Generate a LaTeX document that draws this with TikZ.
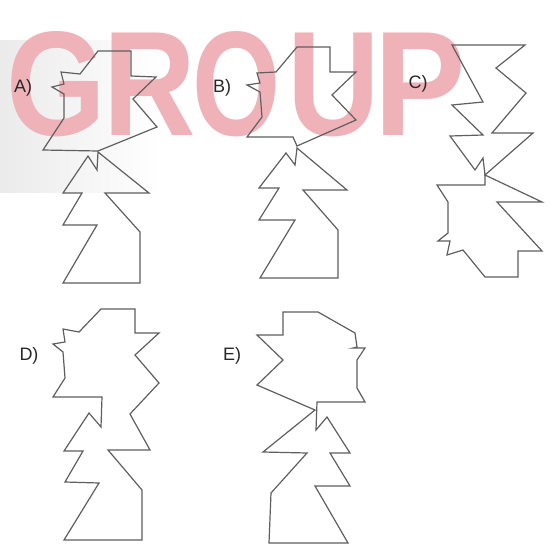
\documentclass[tikz,border=0pt]{standalone}
\usepackage{fontspec}
\setmainfont{Liberation Sans}
\usetikzlibrary{calc}
\definecolor{wmpink}{RGB}{240,178,185}
\definecolor{linegray}{RGB}{95,95,95}
\definecolor{labelgray}{RGB}{40,40,40}
\tikzset{
  piece/.style={draw=linegray, line width=1.2pt, line join=miter},
  optlabel/.style={text=labelgray, font=\fontsize{18}{18}\selectfont, inner sep=0pt},
  wmletter/.style={text=wmpink, font=\fontsize{149}{149}\selectfont\bfseries, inner sep=0pt, anchor=base}
}
\begin{document}
\begin{tikzpicture}[x=1pt,y=-1pt]
\useasboundingbox (0,0) rectangle (554,552);
\fill[white] (0,0) rectangle (554,552);
% faint grey band of the watermark
\shade[left color=black!8, right color=white] (0,40) rectangle (160,192);
% watermark letters
\node[wmletter] (wG) at (56,135) {\scalebox{0.86}[1]{G}};
\node[wmletter] (wR) at (150,135) {\scalebox{0.86}[1]{R}};
\node[wmletter] (wO) at (237,135) {\scalebox{0.76}[1]{O}};
\node[wmletter] (wU) at (334,135) {\scalebox{0.86}[1]{U}};
\node[wmletter] (wP) at (420,135) {\scalebox{0.92}[1]{P}};

% labels
\node[optlabel] (lA) at (23,88) {A)};
\node[optlabel] (lB) at (222,88) {B)};
\node[optlabel] (lC) at (418,84) {C)};
\node[optlabel] (lD) at (29,356) {D)};
\node[optlabel] (lE) at (232,356) {E)};

% ---- A ----
\draw[piece] (98,151) -- (157,127) -- (133,99) -- (156,77) -- (131,76) -- (131,51) -- (98,51)
  -- (80,74) -- (61,72) -- (64,84) -- (52,87) -- (64,94) -- (64,118) -- (43,150) -- cycle;
\draw[piece] (98,152) -- (97,170) -- (88,156) -- (63,193) -- (82,193) -- (63,225) -- (97,225)
  -- (63,283) -- (140,283) -- (140,232) -- (105,193) -- (149,193) -- cycle;

% ---- B ----
\draw[piece] (297,146) -- (356,120) -- (332,95) -- (356,72) -- (330,72) -- (330,47) -- (297,47)
  -- (276,72) -- (257,73) -- (260,83) -- (247,85) -- (260,92) -- (262,117) -- (247,137) -- (293,137) -- cycle;
\draw[piece] (297,148) -- (295,165) -- (286,153) -- (259,188) -- (279,188) -- (259,220) -- (295,220)
  -- (260,278) -- (338,278) -- (338,230) -- (303,190) -- (347,190) -- cycle;

% ---- C ----
\draw[piece] (452,45) -- (525,45) -- (496,68) -- (526,93) -- (492,133) -- (533,133) -- (485,175)
  -- (483,158) -- (475,170) -- (450,136) -- (483,135) -- (452,105) -- (483,102) -- cycle;
\draw[piece] (485,175) -- (485,185) -- (437,185) -- (448,202) -- (448,233) -- (438,241) -- (450,241)
  -- (447,255) -- (463,250) -- (485,277) -- (518,277) -- (518,251) -- (542,251) -- (497,202) -- (542,202) -- cycle;

% ---- D ----
\draw[piece] (101,309) -- (135,309) -- (135,333) -- (159,333) -- (135,355) -- (159,383) -- (130,414)
  -- (150,450) -- (108,450) -- (142,490) -- (142,540) -- (64,540) -- (99,483) -- (65,482) -- (83,451)
  -- (64,451) -- (89,413) -- (101,427) -- (102,397) -- (53,397) -- (65,378) -- (63,352) -- (53,344)
  -- (65,342) -- (63,329) -- (79,332) -- cycle;

% ---- E ----
\draw[piece] (283,312) -- (318,312) -- (355,333) -- (357,347) -- (353,348) -- (365,348) -- (357,360)
  -- (357,388) -- (365,402) -- (317,402) -- (316,430) -- (327,417) -- (350,453) -- (330,453)
  -- (350,486) -- (315,486) -- (348,543) -- (269,543) -- (271,493) -- (307,453) -- (263,452)
  -- (315,410) -- (257,385) -- (283,360) -- (257,335) -- (283,335) -- cycle;
\end{tikzpicture}
\end{document}
